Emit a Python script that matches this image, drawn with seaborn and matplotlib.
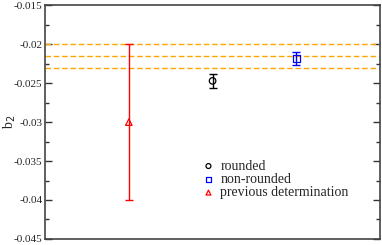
import numpy as np
import seaborn as sns
import matplotlib.pyplot as plt
from matplotlib.ticker import MultipleLocator

# data
labels = ['previous determination', 'rounded', 'non-rounded']
x_pos = [1, 2, 3]
b2 = [-0.030, -0.0247, -0.0218]
b2_err = [0.010, 0.0009, 0.0008]
colors = ['red', 'black', 'blue']
markers = ['^', 'o', 's']
band = [-0.0200, -0.02155, -0.0231]

sns.set_theme(style='ticks')
plt.rcParams['font.family'] = ['Liberation Serif', 'DejaVu Serif']

fig, ax = plt.subplots(figsize=(3.82, 2.45), dpi=100)

for yb in band:
    ax.axhline(yb, color='orange', ls=(0, (4, 2)), lw=1.0, zorder=1)

handles = {}
for xi, yi, ei, c, m, lab in zip(x_pos, b2, b2_err, colors, markers, labels):
    ax.errorbar(xi, yi, yerr=ei, fmt='none', ecolor=c, elinewidth=1.0,
                capsize=3, capthick=1.0, zorder=2)
    h = ax.scatter(xi, yi, marker=m, s=22, facecolors='none', edgecolors=c,
                   linewidths=0.9, zorder=3, label=lab)
    handles[lab] = h

ax.set_xlim(0, 4)
ax.set_ylim(-0.045, -0.015)
ax.set_xticks([])
ax.yaxis.set_major_locator(MultipleLocator(0.005))
ax.yaxis.set_minor_locator(MultipleLocator(0.0025))
ax.set_yticklabels([f'{v:g}' for v in ax.get_yticks()])
ax.tick_params(axis='y', which='both', direction='in', right=True,
               labelsize=8, color='#333333', pad=2)
ax.tick_params(axis='y', which='major', length=5, width=1)
ax.tick_params(axis='y', which='minor', length=3, width=1)
ax.set_ylabel('b$_2$', fontsize=10)
ax.yaxis.set_label_coords(-0.082, 0.5)
for sp in ax.spines.values():
    sp.set_linewidth(1.2)
    sp.set_color('#444444')

order = ['rounded', 'non-rounded', 'previous determination']
ax.legend([handles[k] for k in order], order, loc='lower left',
          bbox_to_anchor=(0.44, 0.14), frameon=False, fontsize=10,
          handletextpad=0.2, labelspacing=0.02, markerscale=0.75,
          borderpad=0, handlelength=1.3)

fig.subplots_adjust(left=0.118, right=0.995, top=0.978, bottom=0.025)
fig.savefig('out.png', dpi=100)
